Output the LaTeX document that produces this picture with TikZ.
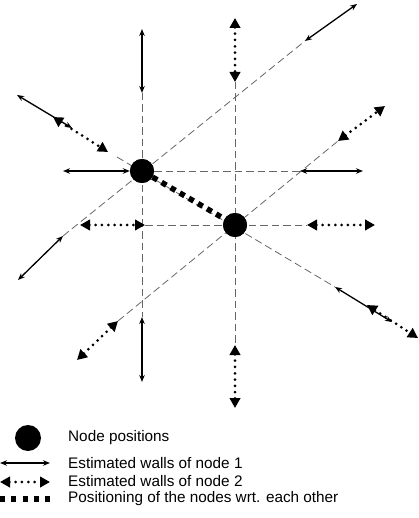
\documentclass[tikz,border=0pt]{standalone}
\usepackage{fontspec}
\setmainfont{Liberation Sans}
\usetikzlibrary{arrows.meta}
\begin{document}
\begin{tikzpicture}[x=1pt,y=-1pt,
  guide/.style={draw=black!60,line width=0.8pt,dash pattern=on 7.5pt off 4pt},
  wallone/.style={line width=1.3pt,{Stealth[length=7pt 0,width=5.5pt 0]}-{Stealth[length=7pt 0,width=5.5pt 0]}},
  walltwo/.style={line width=3pt,line cap=round,dash pattern=on 0pt off 6.3pt,{Triangle[length=10pt 0,width=10.5pt 0]}-{Triangle[length=10pt 0,width=10.5pt 0]}},
  relpos/.style={line width=5.5pt,dash pattern=on 5.5pt off 5pt},
  nodepos/.style={circle,fill=black,minimum size=24pt,inner sep=0pt},
  legtext/.style={anchor=west,font=\fontsize{15.3}{18}\selectfont,inner sep=0pt}]
\useasboundingbox (0,0) rectangle (419,518);
% node positions
\node[nodepos] (n1) at (142,171) {};
\node[nodepos] (n2) at (235,225) {};
% coordinates
\coordinate (v1t) at (142,93);  \coordinate (v1b) at (142,317);
\coordinate (h1r) at (300,171);
\coordinate (d1a) at (117,157); \coordinate (d1b) at (335,287);
\coordinate (a1a) at (63,236);  \coordinate (a1b) at (305,41);
\coordinate (v2t) at (235,82);  \coordinate (v2b) at (235,345);
\coordinate (h2l) at (145,225); \coordinate (h2r) at (307,225);
\coordinate (a2a) at (118,321); \coordinate (a2b) at (338,141);
% guide lines
\draw[guide] (v1t) -- (v1b);
\draw[guide] (n1) -- (h1r);
\draw[guide] (d1a) -- (d1b);
\draw[guide] (a1a) -- (a1b);
\draw[guide] (v2t) -- (v2b);
\draw[guide] (h2l) -- (h2r);
\draw[guide] (a2a) -- (a2b);
\node[nodepos] at (n1) {};
\node[nodepos] at (n2) {};
\draw[relpos] (n1) -- (n2);
% walls of node 1
\coordinate (s1) at (142,29);  \draw[wallone] (s1) -- (v1t);
\coordinate (s2) at (142,382); \draw[wallone] (v1b) -- (s2);
\coordinate (s3) at (63,171);  \draw[wallone] (s3) -- (n1.west);
\coordinate (s4) at (363,171); \draw[wallone] (h1r) -- (s4);
\coordinate (s5a) at (17,95);  \coordinate (s5b) at (72,128); \draw[wallone] (s5a) -- (s5b);
\coordinate (s6a) at (335,287); \coordinate (s6b) at (392,322); \draw[wallone] (s6a) -- (s6b);
\coordinate (s7) at (357,4);   \draw[wallone] (a1b) -- (s7);
\coordinate (s8) at (18,280);  \draw[wallone] (a1a) -- (s8);
% walls of node 2
\coordinate (t1) at (235,18);  \draw[walltwo] (t1) -- (v2t);
\coordinate (t2) at (235,408); \draw[walltwo] (v2b) -- (t2);
\coordinate (t3) at (80,225);  \draw[walltwo] (t3) -- (h2l);
\coordinate (t4) at (375,225); \draw[walltwo] (h2r) -- (t4);
\coordinate (t5a) at (53,117); \coordinate (t5b) at (108,152); \draw[walltwo] (t5a) -- (t5b);
\coordinate (t6a) at (367,305); \coordinate (t6b) at (418,338); \draw[walltwo] (t6a) -- (t6b);
\coordinate (t7) at (385,106); \draw[walltwo] (a2b) -- (t7);
\coordinate (t8) at (77,360);  \draw[walltwo] (a2a) -- (t8);
% legend
\node[nodepos,minimum size=26pt] (lg1) at (28,438) {};
\coordinate (lg2a) at (0,463); \coordinate (lg2b) at (50,463);
\draw[wallone] (lg2a) -- (lg2b);
\coordinate (lg3a) at (0,482); \coordinate (lg3b) at (50,482);
\draw[walltwo] (lg3a) -- (lg3b);
\coordinate (lg4a) at (0,499); \coordinate (lg4b) at (50,499);
\draw[relpos,dash pattern=on 5pt off 6.25pt] (lg4a) -- (lg4b);
\node[legtext] (tx1) at (68,438) {Node positions};
\node[legtext] (tx2) at (68,463) {Estimated walls of node 1};
\node[legtext] (tx3) at (68,481) {Estimated walls of node 2};
\node[legtext] (tx4) at (68,499) {Positioning of the nodes wrt. each other};
\end{tikzpicture}
\end{document}
